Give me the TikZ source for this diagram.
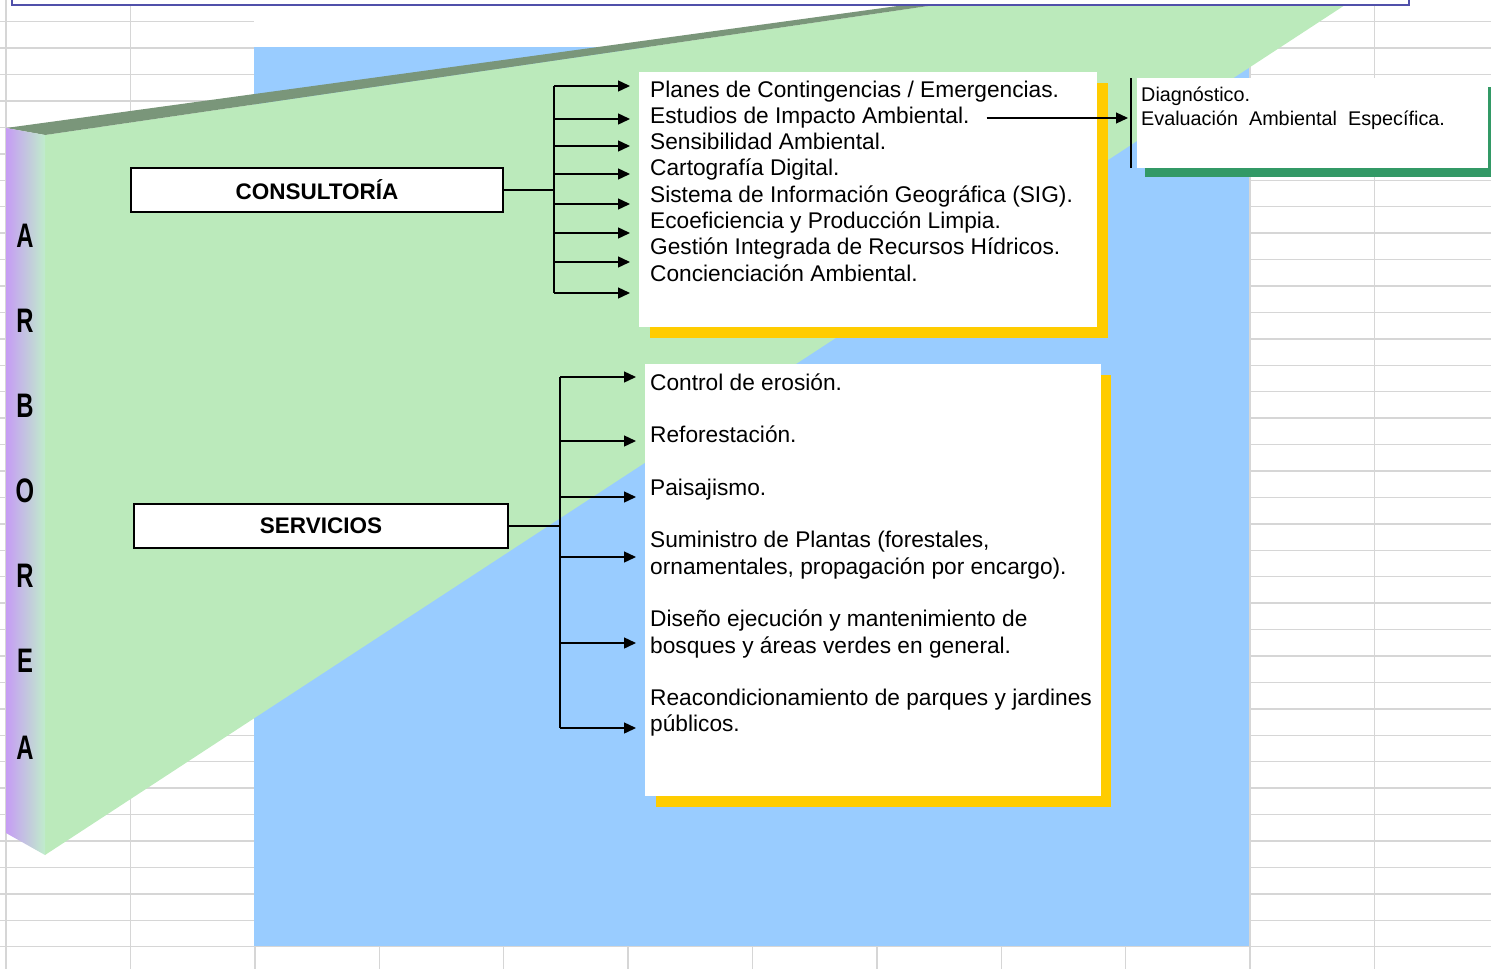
\documentclass[tikz,border=0pt]{standalone}
\usepackage{fontspec}
\setmainfont{Liberation Sans}
\usetikzlibrary{arrows.meta}
\definecolor{celeste}{RGB}{153,204,255}
\definecolor{verdeclaro}{RGB}{187,234,187}
\definecolor{verdeborde}{RGB}{122,150,122}
\definecolor{lila}{RGB}{198,156,244}
\definecolor{lilaverde}{RGB}{192,236,204}
\definecolor{amarillo}{RGB}{255,204,0}
\definecolor{verdesombra}{RGB}{51,153,102}
\definecolor{cuadricula}{RGB}{214,214,214}
\definecolor{marco}{RGB}{80,80,170}
\tikzstyle{celda}=[draw=cuadricula, line width=1.4pt]
\tikzstyle{titulo}=[draw=black, line width=1.6pt, fill=white, inner sep=0pt, font=\fontsize{22.5}{27}\selectfont\bfseries]
\tikzstyle{hoja}=[fill=white, inner sep=0pt, anchor=north west]
\tikzstyle{item}=[inner sep=0pt, anchor=base west, font=\fontsize{22.7}{26.3}\selectfont]
\tikzstyle{nota}=[inner sep=0pt, anchor=base west, font=\fontsize{19.8}{24}\selectfont]
\tikzstyle{letra}=[inner sep=0pt, font=\fontsize{34}{34}\selectfont\bfseries]
\tikzstyle{flecha}=[line width=1.4pt, -{Triangle[length=12pt,width=11pt]}]
\tikzstyle{rama}=[line width=1.4pt]

\begin{document}
\begin{tikzpicture}[x=1pt,y=-1pt]
    \useasboundingbox (0,0) rectangle (1491,969);
    \clip (0,0) rectangle (1491,969);
    \foreach \k in {0,...,35}
      \draw[celda] (0,{21.7+26.43*\k}) -- (1491,{21.7+26.43*\k});
    \foreach \k in {0,...,11}
      \draw[celda] ({6+124.4*\k},0) -- ({6+124.4*\k},969);
    \fill[white] (254,5) rectangle (1320,47);
    \fill[celeste] (254,47) rectangle (1249,946);
    \fill[verdeclaro] (45,135) -- (935,5) -- (1345,5) -- (45,855) -- cycle;
    \fill[verdeborde] (6,128) -- (905,5) -- (935,5) -- (45,135) -- cycle;
    \shade[left color=lila, right color=lilaverde] (6,128) -- (45,135) -- (45,855) -- (6,833) -- cycle;
    \draw[marco, line width=1.5pt, fill=white] (12,-20) rectangle (1409,5);
    \foreach \l/\y [count=\i] in {A/236, R/321, B/406, O/491, R/576, E/661, A/748}
      \node[letra] (l\i) at (25,\y) {\scalebox{0.7}[1]{\l}};
    \node[titulo, minimum width=372pt, minimum height=44pt] (consultoria) at (317,190) {CONSULTORÍA};
    \node[titulo, minimum width=374pt, minimum height=44pt] (servicios) at (321,526) {SERVICIOS};
    \fill[amarillo] (650,83) rectangle (1108,338);
    \node[hoja, minimum width=458pt, minimum height=255pt] (listaC) at (639,72) {};
    \fill[amarillo] (656,375) rectangle (1111,807);
    \node[hoja, minimum width=456pt, minimum height=432pt] (listaS) at (645,364) {};
    \fill[verdesombra] (1145,87) rectangle (1500,177);
    \node[hoja, minimum width=351pt, minimum height=90pt] (evaluacion) at (1137,78) {};
    \foreach \t [count=\i] in {Planes de Contingencias / Emergencias., Estudios de Impacto Ambiental., Sensibilidad Ambiental., Cartografía Digital., Sistema de Información Geográfica (SIG)., Ecoeficiencia y Producción Limpia., Gestión Integrada de Recursos Hídricos., Concienciación Ambiental.}
      \node[item] (c\i) at (650,{97+26.3*(\i-1)}) {\t};
    \node[item] (s1) at (650,390) {Control de erosión.};
    \node[item] (s2) at (650,442.6) {Reforestación.};
    \node[item] (s3) at (650,495.2) {Paisajismo.};
    \node[item] (s4) at (650,547.8) {Suministro de Plantas (forestales,};
    \node[item] (s4b) at (650,574.1) {ornamentales, propagación por encargo).};
    \node[item] (s5) at (650,626.7) {Diseño ejecución y mantenimiento de};
    \node[item] (s5b) at (650,653) {bosques y áreas verdes en general.};
    \node[item] (s6) at (650,705.6) {Reacondicionamiento de parques y jardines};
    \node[item] (s6b) at (650,731.9) {públicos.};
    \node[nota] (diag) at (1141,101.7) {Diagnóstico.};
    \node[nota] (eae) at (1141,125) {Evaluación\ \ Ambiental\ \ Específica.};
    \coordinate (cbus) at (554,190);
    \draw[rama] (consultoria.east) -- (cbus);
    \foreach \y [count=\i] in {86,119,146,174,204,233,262,293} {
      \coordinate (ca\i) at (630,\y);
      \draw[flecha] (cbus |- ca\i) -- (ca\i);
    }
    \draw[rama] (cbus |- ca1) -- (cbus |- ca8);
    \coordinate (sbus) at (560,526);
    \draw[rama] (servicios.east) -- (sbus);
    \foreach \y [count=\i] in {377,441,497,557,643,728} {
      \coordinate (sa\i) at (636,\y);
      \draw[flecha] (sbus |- sa\i) -- (sa\i);
    }
    \draw[rama] (sbus |- sa1) -- (sbus |- sa6);
    \draw[rama] ([xshift=-6pt]evaluacion.north west) -- ([xshift=-6pt]evaluacion.south west);
    \coordinate (ea) at (1128,118);
    \coordinate (ei) at ([xshift=17pt]c2.east);
    \draw[flecha, line width=1.1pt] (ei |- ea) -- (ea);
\end{tikzpicture}
\end{document}
